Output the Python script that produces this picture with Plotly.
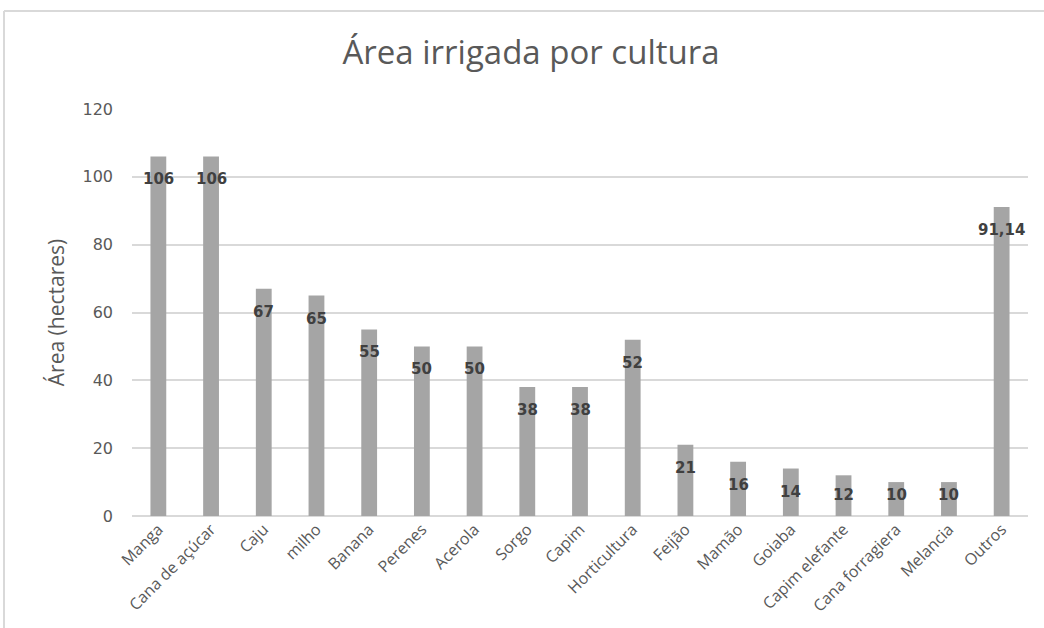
import plotly.graph_objects as go

categories = ["Manga", "Cana de açúcar", "Caju", "milho", "Banana", "Perenes", "Acerola",
              "Sorgo", "Capim", "Horticultura", "Feijão", "Mamão", "Goiaba",
              "Capim elefante", "Cana forragiera", "Melancia", "Outros"]
values = [106, 106, 67, 65, 55, 50, 50, 38, 38, 52, 21, 16, 14, 12, 10, 10, 91.14]
y_ticks = [0, 20, 40, 60, 80, 100, 120]

W, H = 1044, 628
L, R, T, B = 132, 16, 109, 112
plot_h = H - T - B
y_max = 120
px_per_unit = plot_h / y_max

fig = go.Figure()
fig.add_trace(go.Bar(
    x=categories, y=values,
    marker=dict(color="#a5a5a5", line=dict(width=0)),
    hoverinfo="x+y",
))

label_text = [f"{v:g}".replace(".", ",") for v in values]
for c, v, t in zip(categories, values, label_text):
    ly = max(v - 23 / px_per_unit, 21 / px_per_unit)
    fig.add_annotation(x=c, y=ly, text=f"<b>{t}</b>", showarrow=False, yanchor="middle",
                       font=dict(family="DejaVu Sans", size=15, color="#404040"))

# Chart frame (light border on top and left)
def px_x(p):
    return (p - L) / (W - L - R)

def px_y(p):
    return (H - B - p) / plot_h

fig.add_shape(type="line", xref="paper", yref="paper",
              x0=px_x(4), x1=px_x(1044), y0=px_y(11), y1=px_y(11),
              line=dict(color="#d9d9d9", width=2))
fig.add_shape(type="line", xref="paper", yref="paper",
              x0=px_x(4), x1=px_x(4), y0=px_y(11), y1=px_y(628),
              line=dict(color="#d9d9d9", width=2))

fig.update_layout(
    width=W, height=H,
    margin=dict(l=L, r=R, t=T, b=B, autoexpand=False),
    paper_bgcolor="white", plot_bgcolor="white",
    bargap=0.70,
    showlegend=False,
    title=dict(text="Área irrigada por cultura", x=531 / W, xanchor="center",
               y=1 - 52 / H, yanchor="middle", xref="container", yref="container",
               font=dict(family="Open Sans", size=33, color="#595959")),
    font=dict(family="Open Sans", color="#595959"),
)
fig.update_xaxes(
    tickangle=-45, tickfont=dict(family="Open Sans", size=16, color="#595959"),
    showgrid=False, showline=False, ticks="", automargin=False,
)
fig.update_yaxes(
    range=[0, y_max], tickvals=y_ticks,
    tickfont=dict(family="DejaVu Sans", size=16, color="#595959"),
    showgrid=True, gridcolor="#d9d9d9", gridwidth=1.5,
    zeroline=True, zerolinecolor="#d9d9d9", zerolinewidth=1.5,
    showline=False, ticks="", ticklabelstandoff=18, automargin=False,
    title=dict(text="Área (hectares)", font=dict(family="Open Sans", size=21, color="#595959"),
               standoff=12),
)

fig.write_html("out.html", config={"displayModeBar": False},
               post_script="document.body.style.margin='0';")
